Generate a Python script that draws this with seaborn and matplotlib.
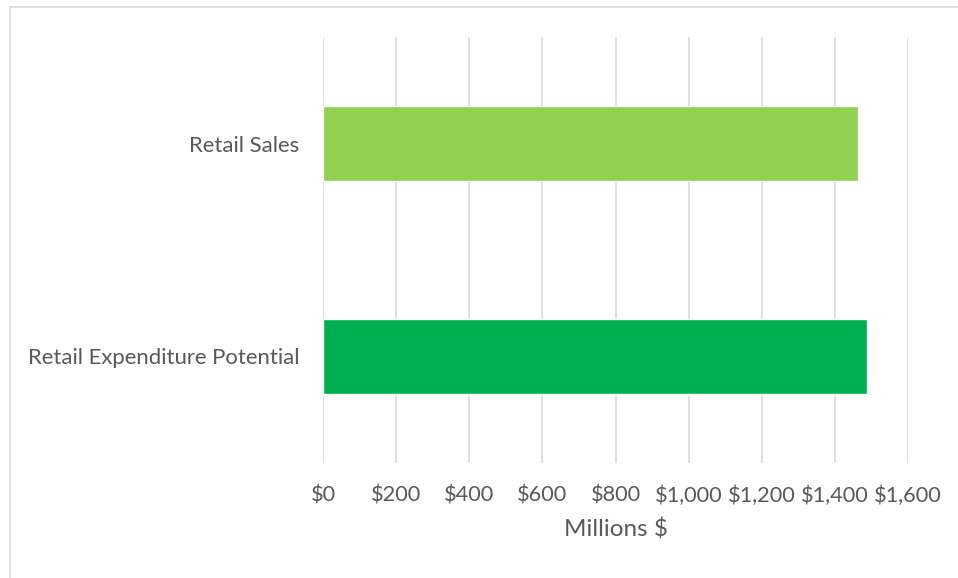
import pandas as pd
import matplotlib.pyplot as plt
import seaborn as sns
from matplotlib.patches import Rectangle
from matplotlib.ticker import FuncFormatter

categories = ["Retail Sales", "Retail Expenditure Potential"]
values = [1464, 1488]
bar_colors = ["#92D050", "#00B050"]
x_ticks = [0, 200, 400, 600, 800, 1000, 1200, 1400, 1600]

sns.set_theme(style="white")
plt.rcParams['font.family'] = ['Lato', 'DejaVu Sans']

df = pd.DataFrame({"Category": categories, "Value": values})

fig = plt.figure(figsize=(9.58, 5.78), dpi=100)
ax = fig.add_axes([323 / 958, 1 - 463 / 578, 585 / 958, 426 / 578])

sns.barplot(data=df, x="Value", y="Category", hue="Category", palette=bar_colors,
            width=0.355, legend=False, ax=ax, saturation=1)

ax.set_xlim(0, 1600)
ax.set_ylim(1.5, -0.5)
ax.set_xticks(x_ticks)
ax.xaxis.set_major_formatter(FuncFormatter(lambda v, p: f"${v:,.0f}"))
ax.grid(axis="x", color="#d9d9d9", linewidth=1.2)
ax.set_axisbelow(True)
for s in ax.spines.values():
    s.set_visible(False)
ax.tick_params(axis="x", length=0, pad=16, labelsize=15.7, labelcolor="#595959")
ax.tick_params(axis="y", length=0, pad=17, labelsize=15.9, labelcolor="#595959")
ax.set_ylabel("")
ax.set_xlabel("Millions $", fontsize=17.5, color="#595959", labelpad=9)

# chart frame (cropped at right and bottom)
fig.patches.append(Rectangle((10 / 958, -0.05), 1.1, 1 - 7 / 578 + 0.05,
                             transform=fig.transFigure, fill=False,
                             edgecolor="#d9d9d9", linewidth=1.2))

fig.savefig("out.png", dpi=100, facecolor="white")
